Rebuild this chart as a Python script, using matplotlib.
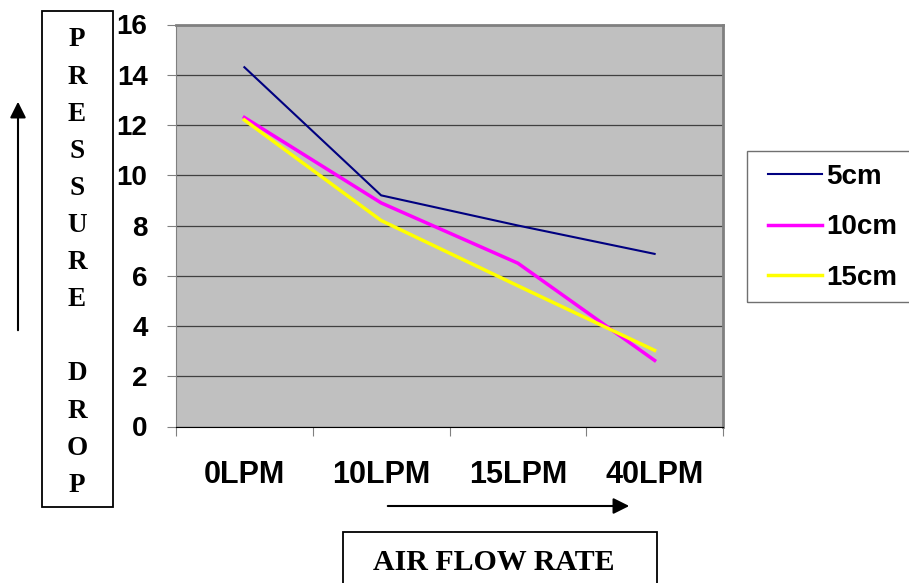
import matplotlib.pyplot as plt
from matplotlib.patches import Rectangle, FancyArrowPatch

# data
flow_rates = ['0LPM', '10LPM', '15LPM', '40LPM']
drop_5cm = [14.3, 9.2, 8.0, 6.87]
drop_10cm = [12.3, 8.9, 6.5, 2.63]
drop_15cm = [12.2, 8.2, 5.6, 3.03]
y_ticks = [0, 2, 4, 6, 8, 10, 12, 14, 16]
y_letters = ['P', 'R', 'E', 'S', 'S', 'U', 'R', 'E', '', 'D', 'R', 'O', 'P']

W, H = 909, 583
fig = plt.figure(figsize=(W / 100, H / 100), dpi=100)

# plot area in pixels: left 176, right 723, top 24.5, bottom 426.5
ax = fig.add_axes([176 / W, 1 - 426.5 / H, (723 - 176) / W, (426.5 - 24.5) / H])
ax.set_facecolor('#C0C0C0')

x = list(range(len(flow_rates)))
ax.plot(x, drop_5cm, color='#000080', lw=1.5, label='5cm')
ax.plot(x, drop_10cm, color='#FF00FF', lw=2.5, label='10cm')
ax.plot(x, drop_15cm, color='#FFFF00', lw=2.5, label='15cm')

ax.set_xlim(-0.5, len(flow_rates) - 0.5)
ax.set_ylim(0, 16)
ax.set_yticks(y_ticks)
ax.set_yticklabels([str(v) for v in y_ticks], fontsize=20, fontweight='bold',
                   family='Liberation Sans')
ax.yaxis.grid(True, color='#404040', lw=0.9)
ax.set_axisbelow(True)

# category labels sit between the boundary ticks
ax.set_xticks([i - 0.5 for i in range(len(flow_rates) + 1)])
ax.set_xticklabels([])
ax.set_xticks(x, minor=True)
ax.set_xticklabels(flow_rates, minor=True, fontsize=22, fontweight='bold',
                   family='Liberation Sans')
ax.tick_params(axis='x', which='minor', length=0, pad=24)
ax.tick_params(axis='x', which='major', length=6.5, color='#808080')
ax.tick_params(axis='y', length=6.5, color='#808080', pad=14)

for side in ['top', 'right']:
    ax.spines[side].set_color('#808080')
    ax.spines[side].set_linewidth(2)
ax.spines['left'].set_color('#808080')
ax.spines['bottom'].set_color('black')

# legend: frame drawn separately, it runs off the right edge like the original
fig.patches.append(Rectangle((747 / W, 1 - 302 / H), 200 / W, 151 / H,
                             transform=fig.transFigure, fill=False,
                             edgecolor='#707070', lw=1.0))
leg = fig.legend(loc='upper left', bbox_to_anchor=(768 / W, 1 - 164 / H),
                 frameon=False,
                 prop={'family': 'Liberation Sans', 'weight': 'bold', 'size': 20},
                 handlelength=1.95, labelspacing=0.88, borderpad=0,
                 handletextpad=0.15, borderaxespad=0)

# vertical axis label box
fig.patches.append(Rectangle((41.5 / W, 1 - 507 / H), 71 / W, 496 / H,
                             transform=fig.transFigure, fill=False,
                             edgecolor='black', lw=1.3))
for i, ch in enumerate(y_letters):
    fig.text(77 / W, 1 - (40 + i * 37.1) / H, ch, ha='center', va='center',
             fontsize=19.5, fontweight='bold', family='Liberation Serif')

# up arrow
fig.add_artist(FancyArrowPatch(
    (18 / W, 1 - 333 / H), (18 / W, 1 - 99 / H), transform=fig.transFigure,
    arrowstyle='-|>', mutation_scale=24, color='black', lw=1.5))

# right arrow under the category labels
fig.add_artist(FancyArrowPatch(
    (385 / W, 1 - 506 / H), (632 / W, 1 - 506 / H), transform=fig.transFigure,
    arrowstyle='-|>', mutation_scale=24, color='black', lw=1.5))

# horizontal axis label box
fig.patches.append(Rectangle((343 / W, 1 - 600 / H), 314 / W, 68 / H,
                             transform=fig.transFigure, fill=False,
                             edgecolor='black', lw=1.3))
fig.text(494 / W, 1 - 562 / H, 'AIR FLOW RATE', ha='center', va='center',
         fontsize=21.5, fontweight='bold', family='Liberation Serif')

fig.savefig('out.png', dpi=100)
